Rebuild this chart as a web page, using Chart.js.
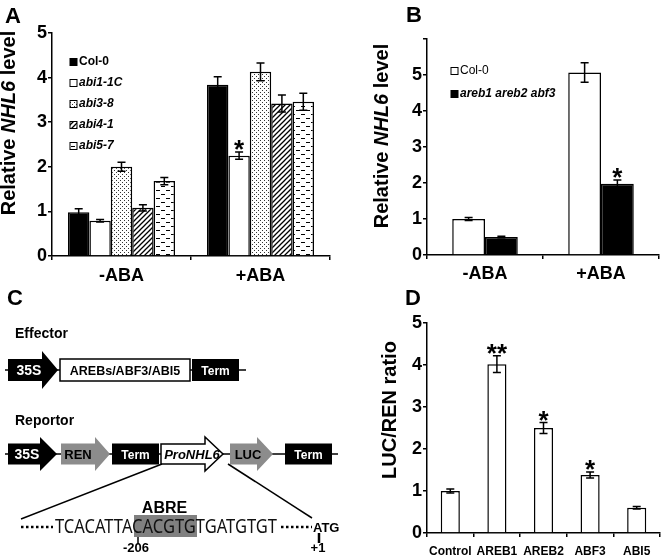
<!DOCTYPE html>
<html>
<head>
<meta charset="utf-8">
<script src="https://cdn.jsdelivr.net/npm/chart.js@4.4.1/dist/chart.umd.min.js"></script>
<style>
  body { margin: 0; background: #fff; }
  #wrap { position: relative; width: 662px; height: 558px; overflow: hidden; font-family: "Liberation Sans", Arial, sans-serif; }
  canvas { position: absolute; }
  svg { position: absolute; left: 0; top: 0; }
</style>
</head>
<body>
<div id="wrap">
  <canvas id="chartA" width="340" height="290" style="left:0;top:0"></canvas>
  <canvas id="chartB" width="322" height="290" style="left:340px;top:0"></canvas>
  <canvas id="chartD" width="322" height="278" style="left:340px;top:280px"></canvas>
  <svg width="662" height="558" font-family="Liberation Sans, Arial, sans-serif">
    <!-- panel letters -->
    <text x="5" y="23" font-size="22" font-weight="bold">A</text>
    <text x="406" y="22" font-size="22" font-weight="bold">B</text>
    <text x="7" y="305" font-size="22" font-weight="bold">C</text>
    <text x="405" y="305" font-size="22" font-weight="bold">D</text>

    <!-- axis titles -->
    <text transform="translate(15,123) rotate(-90)" text-anchor="middle" font-size="20" font-weight="bold">Relative <tspan font-style="italic">NHL6</tspan> level</text>
    <text transform="translate(388,136) rotate(-90)" text-anchor="middle" font-size="20" font-weight="bold">Relative <tspan font-style="italic">NHL6</tspan> level</text>
    <text transform="translate(396,410) rotate(-90)" text-anchor="middle" font-size="20" font-weight="bold">LUC/REN ratio</text>

    <!-- C: effector -->
    <text x="15" y="338" font-size="14" font-weight="bold">Effector</text>
    <line x1="5" y1="370" x2="246" y2="370" stroke="#000" stroke-width="1.5"/>
    <polygon points="8,359 42,359 42,351 58,370 42,389 42,381 8,381" fill="#000"/>
    <text x="29" y="375" font-size="14" font-weight="bold" fill="#fff" text-anchor="middle">35S</text>
    <rect x="60" y="359" width="130" height="22" fill="#fff" stroke="#000" stroke-width="1.5"/>
    <text x="125" y="375" font-size="12.5" font-weight="bold" text-anchor="middle">AREBs/ABF3/ABI5</text>
    <rect x="192" y="359" width="47" height="22" fill="#000"/>
    <text x="215.5" y="374.5" font-size="12" font-weight="bold" fill="#fff" text-anchor="middle">Term</text>

    <!-- C: reportor -->
    <text x="15" y="425" font-size="14" font-weight="bold">Reportor</text>
    <line x1="5" y1="454" x2="338" y2="454" stroke="#000" stroke-width="1.5"/>
    <polygon points="8,443.5 40,443.5 40,437 57,454 40,471 40,464.5 8,464.5" fill="#000"/>
    <text x="27" y="459" font-size="14" font-weight="bold" fill="#fff" text-anchor="middle">35S</text>
    <polygon points="61,443.5 95,443.5 95,437 110,454 95,471 95,464.5 61,464.5" fill="#8c8c8c"/>
    <text x="78" y="459" font-size="13" font-weight="bold" fill="#000" text-anchor="middle">REN</text>
    <rect x="112" y="443.5" width="47" height="21" fill="#000"/>
    <text x="135.5" y="458.5" font-size="12" font-weight="bold" fill="#fff" text-anchor="middle">Term</text>
    <polygon points="161,444 205,444 205,437 223,454 205,471 205,464 161,464" fill="#fff" stroke="#000" stroke-width="1.5"/>
    <text x="192" y="459" font-size="13" font-weight="bold" font-style="italic" text-anchor="middle">ProNHL6</text>
    <polygon points="230,443.5 257,443.5 257,437 273,454 257,471 257,464.5 230,464.5" fill="#8c8c8c"/>
    <text x="248" y="459" font-size="13" font-weight="bold" fill="#000" text-anchor="middle">LUC</text>
    <rect x="285" y="443.5" width="47" height="21" fill="#000"/>
    <text x="308.5" y="458.5" font-size="12" font-weight="bold" fill="#fff" text-anchor="middle">Term</text>

    <!-- C: zoom lines and sequence -->
    <line x1="162" y1="464" x2="21" y2="519" stroke="#000" stroke-width="1.5"/>
    <line x1="228" y1="464" x2="312" y2="518" stroke="#000" stroke-width="1.5"/>
    <rect x="134" y="515" width="63" height="22" fill="#808080"/>
    <text x="164.5" y="512.5" font-size="16" font-weight="bold" text-anchor="middle">ABRE</text>
    <line x1="21" y1="527" x2="53" y2="527" stroke="#000" stroke-width="2.5" stroke-dasharray="2.5,2.5"/>
    <text x="55" y="533" font-family="Noto Sans, sans-serif" font-size="20" textLength="222" lengthAdjust="spacingAndGlyphs" fill="#111">TCACATTACACGTGTGATGTGT</text>
    <line x1="281" y1="527" x2="312" y2="527" stroke="#000" stroke-width="2.5" stroke-dasharray="2.5,2.5"/>
    <text x="313" y="532" font-size="13" font-weight="bold">ATG</text>
    <line x1="138" y1="537" x2="138" y2="544" stroke="#000" stroke-width="1.5"/>
    <text x="136" y="552" font-size="13" font-weight="bold" text-anchor="middle">-206</text>
    <line x1="319" y1="533" x2="319" y2="543" stroke="#000" stroke-width="2.5"/>
    <text x="318" y="552" font-size="13" font-weight="bold" text-anchor="middle">+1</text>
  </svg>
</div>
<script>
// panel A
const groupsA = ['-ABA', '+ABA'];
const col0A = [0.98, 3.84];
const col0AErr = [0.08, 0.18];
const abi11cA = [0.79, 2.25];
const abi11cAErr = [0.03, 0.08];
const abi38A = [2.0, 4.13];
const abi38AErr = [0.1, 0.2];
const abi41A = [1.08, 3.42];
const abi41AErr = [0.07, 0.19];
const abi57A = [1.68, 3.46];
const abi57AErr = [0.08, 0.19];
const starsA = ['', '*'];

// panel B
const groupsB = ['-ABA', '+ABA'];
const col0B = [1.0, 5.07];
const col0BErr = [0.04, 0.27];
const arebB = [0.5, 1.98];
const arebBErr = [0.02, 0.1];
const starsB = ['', '*'];

// panel D
const effectorsD = ['Control', 'AREB1', 'AREB2', 'ABF3', 'ABI5'];
const ratioD = [1.0, 4.02, 2.5, 1.38, 0.6];
const ratioDErr = [0.05, 0.2, 0.13, 0.07, 0.03];
const starsD = ['', '**', '*', '*', ''];

const FONT = '"Liberation Sans", Arial, sans-serif';

// fill patterns for the mutant bars
const makePattern = (w, h, draw) => {
    const c = document.createElement('canvas');
    c.width = w;
    c.height = h;
    const g = c.getContext('2d');
    g.fillStyle = '#fff';
    g.fillRect(0, 0, w, h);
    g.fillStyle = '#000';
    g.strokeStyle = '#000';
    draw(g);
    return g.createPattern(c, 'repeat');
};
const dots = makePattern(4, 4, (g) => {
    g.fillStyle = '#333';
    g.fillRect(0, 0, 1, 1);
    g.fillRect(2, 2, 1, 1);
});
const hatch = makePattern(5, 5, (g) => {
    g.lineWidth = 1.3;
    g.beginPath();
    g.moveTo(-1, 6); g.lineTo(6, -1);
    g.moveTo(-1, 1); g.lineTo(1, -1);
    g.moveTo(4, 6); g.lineTo(6, 4);
    g.stroke();
});
const dashes = makePattern(10, 8, (g) => {
    g.fillRect(1, 2, 4, 1);
    g.fillRect(6, 6, 4, 1);
});

const errorBars = {
    id: 'errorBars',
    afterDatasetsDraw(chart) {
        const { ctx } = chart;
        const y = chart.scales.y;
        ctx.save();
        chart.data.datasets.forEach((ds, i) => {
            if (!ds.errors) return;
            chart.getDatasetMeta(i).data.forEach((bar, j) => {
                const v = ds.data[j];
                const e = ds.errors[j];
                const top = y.getPixelForValue(v + e);
                const bot = y.getPixelForValue(v - e);
                ctx.strokeStyle = '#000';
                ctx.lineWidth = 1.5;
                ctx.beginPath();
                ctx.moveTo(bar.x, top); ctx.lineTo(bar.x, bot);
                ctx.moveTo(bar.x - 4, top); ctx.lineTo(bar.x + 4, top);
                ctx.moveTo(bar.x - 4, bot); ctx.lineTo(bar.x + 4, bot);
                ctx.stroke();
                if (ds.stars && ds.stars[j]) {
                    ctx.fillStyle = '#000';
                    ctx.font = 'bold 26px ' + FONT;
                    ctx.textAlign = 'center';
                    ctx.textBaseline = 'alphabetic';
                    ctx.fillText(ds.stars[j], bar.x, top + 6);
                }
            });
        });
        ctx.restore();
    },
};

// small legend drawn inside the plot
const boxLegend = {
    id: 'boxLegend',
    afterDraw(chart, args, opts) {
        if (!opts.x) return;
        const { ctx } = chart;
        ctx.save();
        chart.data.datasets.forEach((ds, i) => {
            const cy = opts.y + i * opts.gap;
            ctx.fillStyle = ds.backgroundColor;
            ctx.fillRect(opts.x, cy - 3.5, 7, 7);
            ctx.strokeStyle = '#000';
            ctx.lineWidth = 1;
            ctx.strokeRect(opts.x, cy - 3.5, 7, 7);
            ctx.fillStyle = '#000';
            ctx.font = (ds.legendFont || 'bold') + ' 12px ' + FONT;
            ctx.textBaseline = 'middle';
            ctx.textAlign = 'left';
            ctx.fillText(ds.label, opts.x + 9, cy);
        });
        ctx.restore();
    },
};

const axisFont = { family: FONT, weight: 'bold', size: 18 };

const makeOptions = (cfg) => ({
    responsive: false,
    animation: false,
    layout: { padding: { left: 0, top: cfg.top, right: cfg.right, bottom: 0 } },
    plugins: {
        legend: { display: false },
        tooltip: { enabled: false },
        boxLegend: cfg.legend || {},
    },
    scales: {
        x: {
            afterFit: (s) => { s.height = cfg.xHeight; },
            border: { color: '#000', width: 1.5 },
            grid: { drawOnChartArea: false, drawTicks: true, tickLength: 4, color: '#000', lineWidth: 1.5 },
            ticks: { color: '#000', font: cfg.xFont || axisFont, padding: cfg.xPad, maxRotation: 0, autoSkip: false },
        },
        y: {
            min: 0,
            max: cfg.max,
            afterFit: (s) => { s.width = cfg.yWidth; },
            border: { color: '#000', width: 1.5 },
            grid: { drawOnChartArea: false, drawTicks: true, tickLength: 4, color: '#000', lineWidth: 1.5 },
            ticks: {
                stepSize: 1,
                color: '#000',
                font: axisFont,
                padding: 1,
                callback: (v) => (v > cfg.maxLabel ? '' : v),
            },
        },
    },
});

const barStyle = { borderColor: '#000', borderWidth: 1.5, barPercentage: 1 };

new Chart(document.getElementById('chartA'), {
    type: 'bar',
    data: {
        labels: groupsA,
        datasets: [
            { label: 'Col-0', data: col0A, errors: col0AErr, backgroundColor: '#000', categoryPercentage: 0.77, ...barStyle },
            { label: 'abi1-1C', data: abi11cA, errors: abi11cAErr, stars: starsA, backgroundColor: '#fff', legendFont: 'italic bold', categoryPercentage: 0.77, ...barStyle },
            { label: 'abi3-8', data: abi38A, errors: abi38AErr, backgroundColor: dots, legendFont: 'italic bold', categoryPercentage: 0.77, ...barStyle },
            { label: 'abi4-1', data: abi41A, errors: abi41AErr, backgroundColor: hatch, legendFont: 'italic bold', categoryPercentage: 0.77, ...barStyle },
            { label: 'abi5-7', data: abi57A, errors: abi57AErr, backgroundColor: dashes, legendFont: 'italic bold', categoryPercentage: 0.77, ...barStyle },
        ],
    },
    options: makeOptions({ top: 33, right: 10, xHeight: 34, yWidth: 52, max: 5, maxLabel: 5, xPad: 5, legend: { x: 70, y: 62, gap: 21 } }),
    plugins: [errorBars, boxLegend],
});

new Chart(document.getElementById('chartB'), {
    type: 'bar',
    data: {
        labels: groupsB,
        datasets: [
            { label: 'Col-0', data: col0B, errors: col0BErr, backgroundColor: '#fff', legendFont: 'normal', categoryPercentage: 0.565, ...barStyle },
            { label: 'areb1 areb2 abf3', data: arebB, errors: arebBErr, stars: starsB, backgroundColor: '#000', legendFont: 'italic bold', categoryPercentage: 0.565, ...barStyle },
        ],
    },
    options: makeOptions({ top: 39, right: 3, xHeight: 35, yWidth: 87, max: 6, maxLabel: 5, xPad: 4, legend: { x: 111, y: 71, gap: 23 } }),
    plugins: [errorBars, boxLegend],
});

new Chart(document.getElementById('chartD'), {
    type: 'bar',
    data: {
        labels: effectorsD,
        datasets: [
            { label: 'LUC/REN', data: ratioD, errors: ratioDErr, stars: starsD, backgroundColor: '#fff', categoryPercentage: 0.41, ...barStyle },
        ],
    },
    options: makeOptions({ top: 43, right: 2, xHeight: 25, yWidth: 87, max: 5, maxLabel: 5, xPad: 7, xFont: { family: FONT, weight: 'bold', size: 12 } }),
    plugins: [errorBars],
});
</script>
</body>
</html>
